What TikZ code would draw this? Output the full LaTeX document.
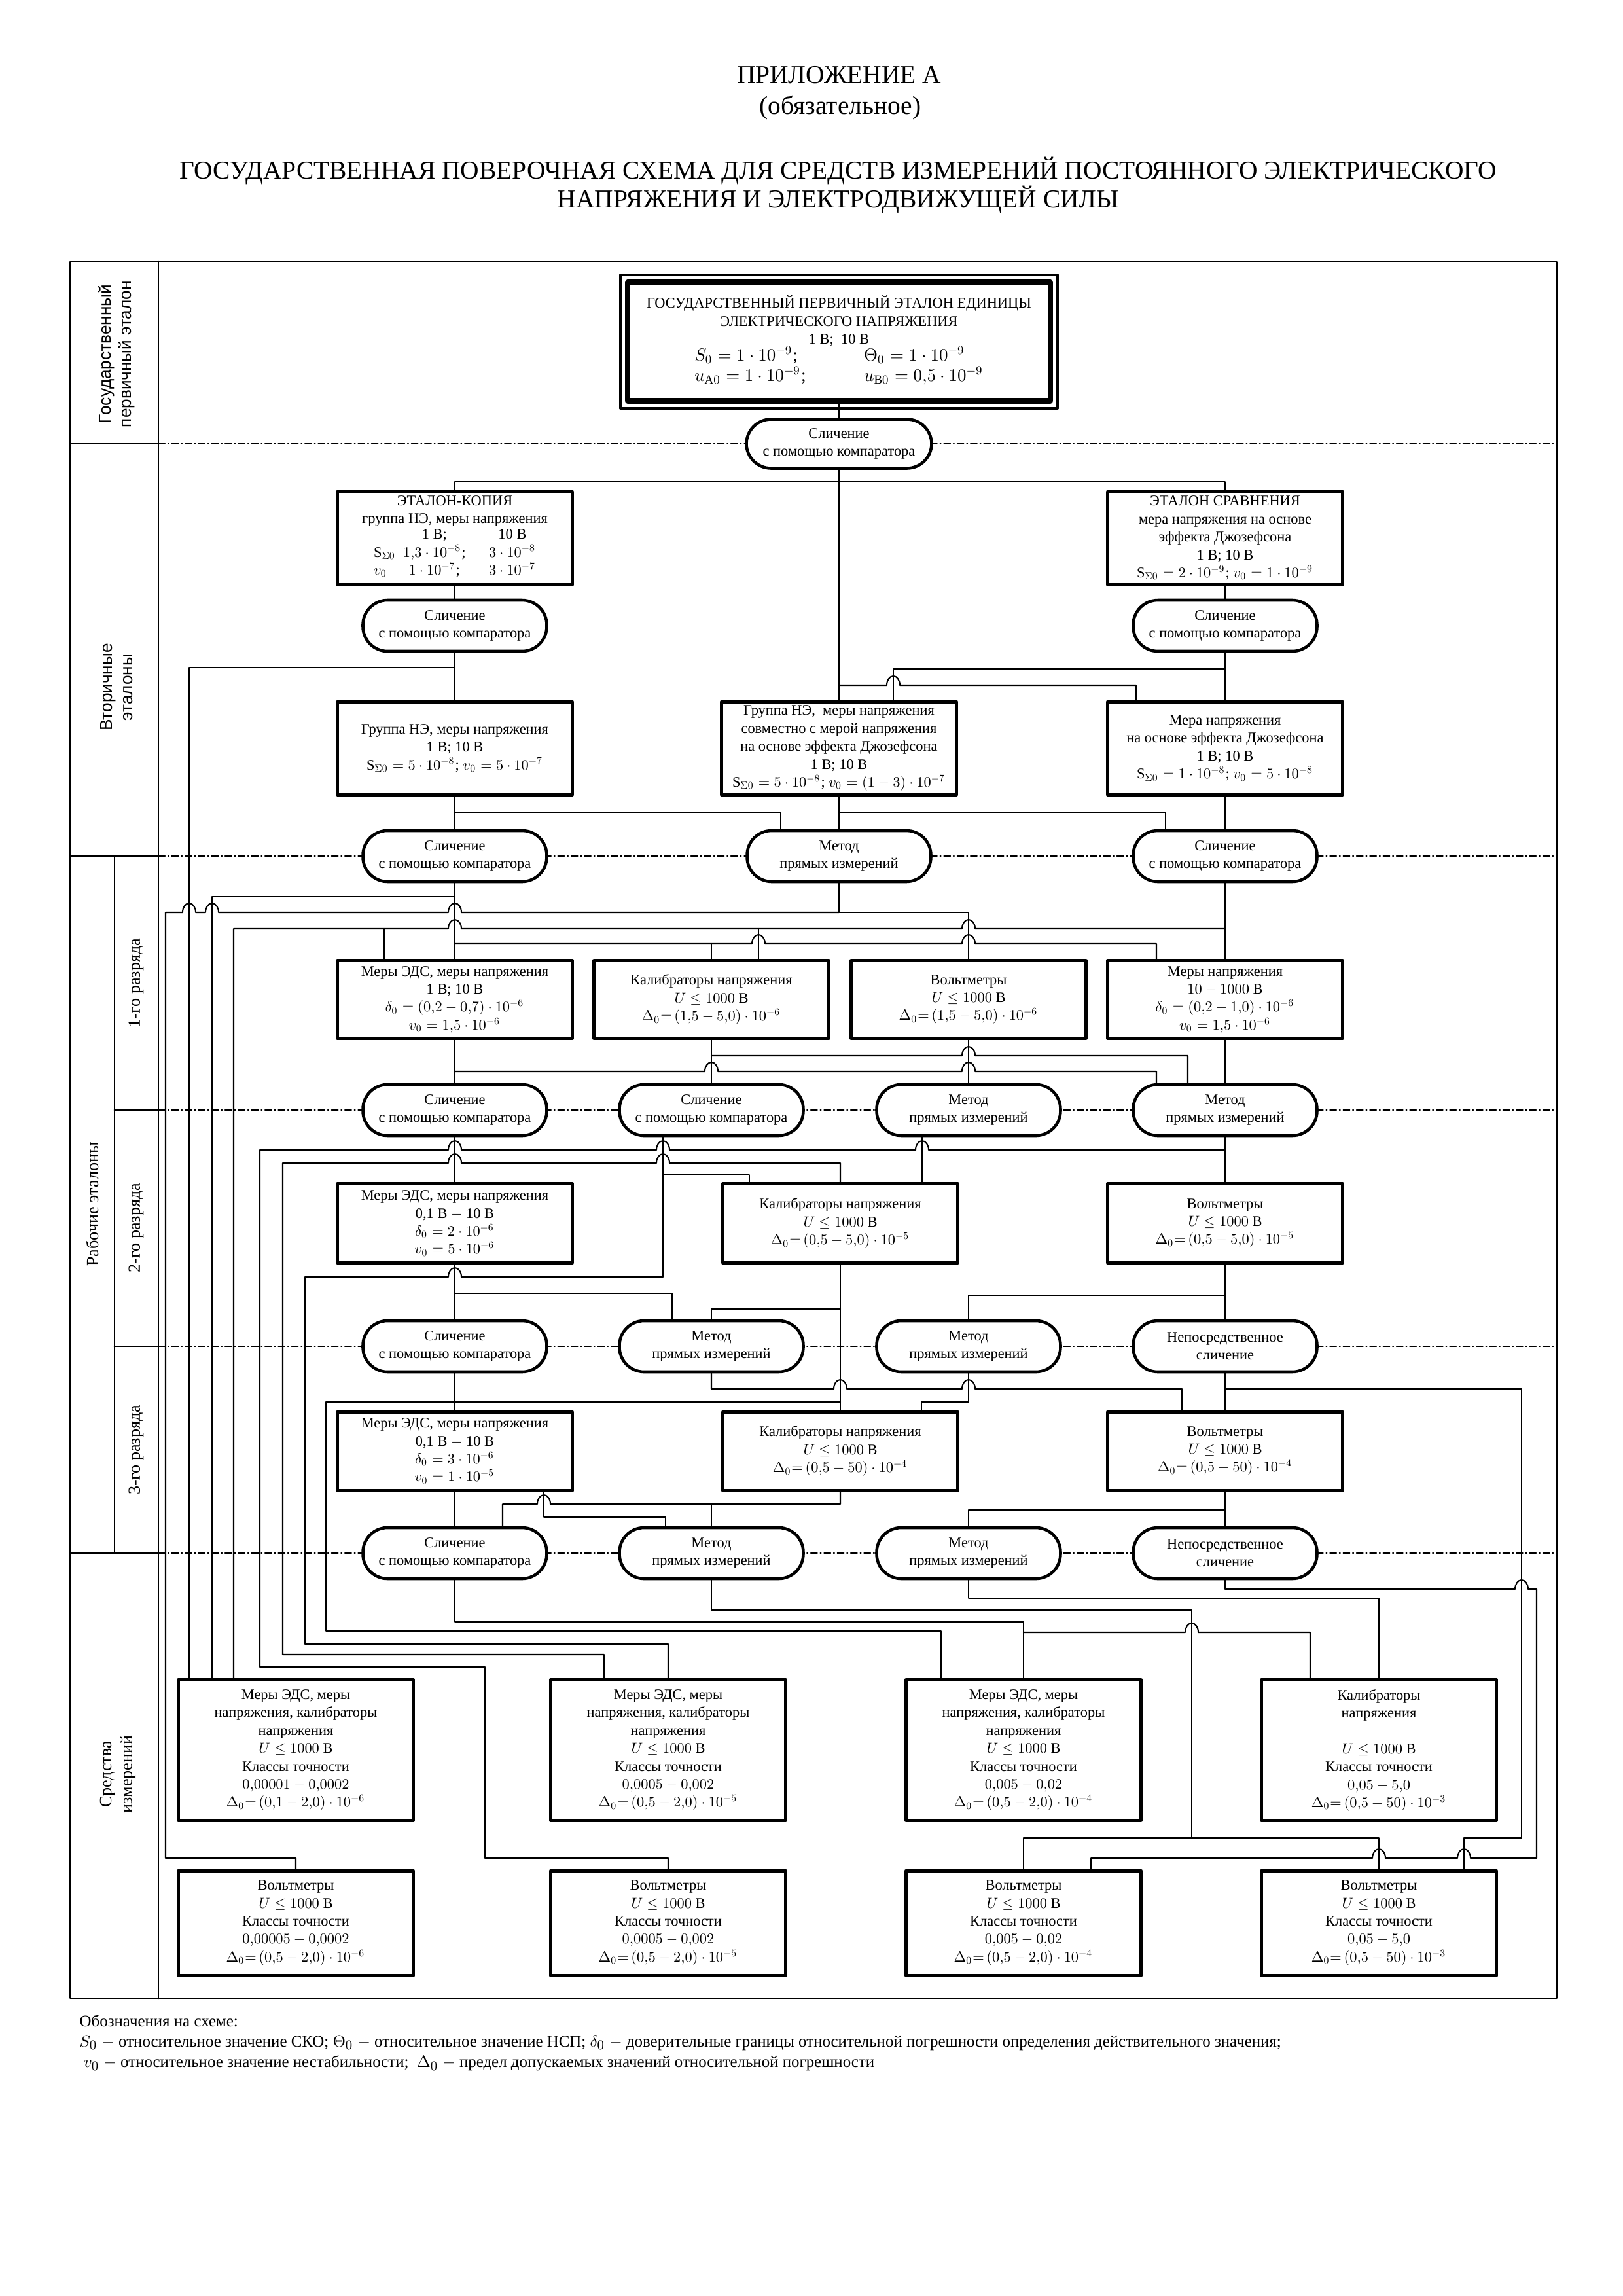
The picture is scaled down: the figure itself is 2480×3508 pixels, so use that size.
\documentclass[tikz,border=0pt]{standalone}
\usepackage{fontspec}
\setmainfont{Liberation Serif}
\newfontfamily\lblsans{Liberation Sans}
\DeclareFontShape{OML}{cmm}{m}{it}{<->cmmi10}{}
\DeclareFontShape{OMS}{cmsy}{m}{n}{<->cmsy10}{}
\DeclareFontShape{OT1}{cmr}{m}{n}{<->cmr10}{}
\def\px{0.084677mm}
\newcommand\hopR[2]{-- (#1-10,#2) arc[start angle=180,end angle=360,x radius=10,y radius=14]}
\newcommand\hopL[2]{-- (#1+10,#2) arc[start angle=0,end angle=-180,x radius=10,y radius=14]}
\newcommand\slich{Сличение\\с помощью компаратора}
\newcommand\metod{Метод\\прямых измерений}
\newcommand\nepos{Непосредственное\\сличение}
\begin{document}
\begin{tikzpicture}[x=0.084677mm, y=-0.084677mm, line join=round, line cap=round,
  box/.style={draw, fill=white, line width=1.2pt, minimum width=359*\px, align=center, inner sep=1pt, font=\fontsize{5.4}{6.6}\selectfont},
  oval/.style={draw, fill=white, line width=1.1pt, rounded corners=3.2mm, minimum width=281*\px, minimum height=78*\px, align=center, inner sep=1pt, font=\fontsize{5.4}{6.4}\selectfont},
  conn/.style={line width=0.5pt},
  frm/.style={line width=0.7pt},
  dashdot/.style={line width=0.3pt, dash pattern=on 2.5pt off 1pt on 0.4pt off 1pt},
  side/.style={rotate=90, align=center, font=\fontsize{6.3}{7.6}\selectfont}]
\useasboundingbox (0,0) rectangle (2480,3508);

\node[font=\fontsize{9.5}{11}\selectfont] (app) at (1282,115) {ПРИЛОЖЕНИЕ А};
\node[font=\fontsize{9.5}{11}\selectfont] (oblig) at (1284,165) {(обязательное)};
\node[font=\fontsize{9.5}{10.8}\selectfont, align=center] (ttl) at (1281,283) {ГОСУДАРСТВЕННАЯ ПОВЕРОЧНАЯ СХЕМА ДЛЯ СРЕДСТВ ИЗМЕРЕНИЙ ПОСТОЯННОГО ЭЛЕКТРИЧЕСКОГО\\НАПРЯЖЕНИЯ И ЭЛЕКТРОДВИЖУЩЕЙ СИЛЫ};

% frame and side column
\draw[frm] (107,400) rectangle (2379,3053);
\draw[frm] (242,400) -- (242,3053);
\draw[frm] (107,678) -- (242,678);
\draw[frm] (107,1308) -- (242,1308);
\draw[frm] (175,1308) -- (175,2373);
\draw[frm] (175,1696) -- (242,1696);
\draw[frm] (175,2057) -- (242,2057);
\draw[frm] (107,2373) -- (242,2373);
\foreach \yy in {678,1308,1696,2057,2373}
  \draw[dashdot] (242,\yy) -- (2379,\yy);

\node[side, font=\lblsans\fontsize{6.3}{7.6}\selectfont] (lgos) at (178,541) {Государственный\\первичный эталон};
\node[side, font=\lblsans\fontsize{6.3}{7.6}\selectfont] (lvtor) at (178,1050) {Вторичные\\эталоны};
\node[side] (lrab) at (141,1840) {Рабочие эталоны};
\node[side] (lr1) at (208,1502) {1-го разряда};
\node[side] (lr2) at (208,1876) {2-го разряда};
\node[side] (lr3) at (208,2215) {3-го разряда};
\node[side] (lsi) at (180,2711) {Средства\\измерений};

% primary and secondary standards
\node[box, line width=2pt, minimum width=646*\px, minimum height=181*\px] (prim) at (1282,522) {ГОСУДАРСТВЕННЫЙ ПЕРВИЧНЫЙ ЭТАЛОН ЕДИНИЦЫ\\ЭЛЕКТРИЧЕСКОГО НАПРЯЖЕНИЯ\\1 В;\ \ 10 В\\[-1pt]
  {\fontsize{6.5}{7.6}\selectfont\begin{tabular}{@{}l@{\hspace{7.5mm}}l@{}}$S_0=1\cdot10^{-9}$; & $\Theta_0=1\cdot10^{-9}$\\ $u_{\mathrm{A}0}=1\cdot10^{-9}$; & $u_{\mathrm{B}0}=0{,}5\cdot10^{-9}$\end{tabular}}};
\draw[line width=0.9pt] ([shift={(-7,-7)}]prim.north west) rectangle ([shift={(7,7)}]prim.south east);
\node[oval, minimum width=283*\px, minimum height=75*\px] (ov0) at (1282,678) {\slich};

\node[box, minimum height=142*\px] (ek) at (695,822) {ЭТАЛОН-КОПИЯ\\группа НЭ, меры напряжения\\[-1pt]
  \begin{tabular}{@{}l@{\ \ }c@{\hspace{3mm}}c@{}} & 1 В; & 10 В\\ S$_{\Sigma0}$ & $1{,}3\cdot10^{-8}$; & $3\cdot10^{-8}$\\ $v_0$ & $1\cdot10^{-7}$; & $3\cdot10^{-7}$\end{tabular}};
\node[box, minimum height=142*\px] (es) at (1872,822) {ЭТАЛОН СРАВНЕНИЯ\\мера напряжения на основе\\эффекта Джозефсона\\1 В; 10 В\\S$_{\Sigma0}=2\cdot10^{-9}$; $v_0=1\cdot10^{-9}$};
\node[oval] (ov1a) at (695,956) {\slich};
\node[oval] (ov1b) at (1872,956) {\slich};

\node[box, minimum height=142*\px] (g1) at (695,1143) {Группа НЭ, меры напряжения\\1 В; 10 В\\S$_{\Sigma0}=5\cdot10^{-8}$; $v_0=5\cdot10^{-7}$};
\node[box, minimum height=142*\px] (g2) at (1282,1143) {Группа НЭ,\ \ меры напряжения\\совместно с мерой напряжения\\на основе эффекта Джозефсона\\1 В; 10 В\\S$_{\Sigma0}=5\cdot10^{-8}$; $v_0=(1-3)\cdot10^{-7}$};
\node[box, minimum height=142*\px] (g3) at (1872,1143) {Мера напряжения\\на основе эффекта Джозефсона\\1 В; 10 В\\S$_{\Sigma0}=1\cdot10^{-8}$; $v_0=5\cdot10^{-8}$};
\node[oval] (ov2a) at (695,1308) {\slich};
\node[oval] (ov2b) at (1282,1308) {\metod};
\node[oval] (ov2c) at (1872,1308) {\slich};

% working standards
\node[box, minimum height=119*\px] (b11) at (695,1527) {Меры ЭДС, меры напряжения\\1 В; 10 В\\$\delta_0=(0{,}2-0{,}7)\cdot10^{-6}$\\$v_0=1{,}5\cdot10^{-6}$};
\node[box, minimum height=119*\px] (b12) at (1087,1527) {Калибраторы напряжения\\$U\leq1000$ В\\$\Delta_0{=}\,(1{,}5-5{,}0)\cdot10^{-6}$};
\node[box, minimum height=119*\px] (b13) at (1480,1527) {Вольтметры\\$U\leq1000$ В\\$\Delta_0{=}\,(1{,}5-5{,}0)\cdot10^{-6}$};
\node[box, minimum height=119*\px] (b14) at (1872,1527) {Меры напряжения\\$10-1000$ В\\$\delta_0=(0{,}2-1{,}0)\cdot10^{-6}$\\$v_0=1{,}5\cdot10^{-6}$};
\node[oval] (ov3a) at (695,1696) {\slich};
\node[oval] (ov3b) at (1087,1696) {\slich};
\node[oval] (ov3c) at (1480,1696) {\metod};
\node[oval] (ov3d) at (1872,1696) {\metod};

\node[box, minimum height=121*\px] (b21) at (695,1869) {Меры ЭДС, меры напряжения\\0,1 В $-$ 10 В\\$\delta_0=2\cdot10^{-6}$\\$v_0=5\cdot10^{-6}$};
\node[box, minimum height=121*\px] (b22) at (1284,1869) {Калибраторы напряжения\\$U\leq1000$ В\\$\Delta_0{=}\,(0{,}5-5{,}0)\cdot10^{-5}$};
\node[box, minimum height=121*\px] (b23) at (1872,1869) {Вольтметры\\$U\leq1000$ В\\$\Delta_0{=}\,(0{,}5-5{,}0)\cdot10^{-5}$};
\node[oval] (ov4a) at (695,2057) {\slich};
\node[oval] (ov4b) at (1087,2057) {\metod};
\node[oval] (ov4c) at (1480,2057) {\metod};
\node[oval] (ov4d) at (1872,2057) {\nepos};

\node[box, minimum height=120*\px] (b31) at (695,2217) {Меры ЭДС, меры напряжения\\0,1 В $-$ 10 В\\$\delta_0=3\cdot10^{-6}$\\$v_0=1\cdot10^{-5}$};
\node[box, minimum height=120*\px] (b32) at (1284,2217) {Калибраторы напряжения\\$U\leq1000$ В\\$\Delta_0{=}\,(0{,}5-50)\cdot10^{-4}$};
\node[box, minimum height=120*\px] (b33) at (1872,2217) {Вольтметры\\$U\leq1000$ В\\$\Delta_0{=}\,(0{,}5-50)\cdot10^{-4}$};
\node[oval] (ov5a) at (695,2373) {\slich};
\node[oval] (ov5b) at (1087,2373) {\metod};
\node[oval] (ov5c) at (1480,2373) {\metod};
\node[oval] (ov5d) at (1872,2373) {\nepos};

% measuring instruments
\node[box, minimum height=215*\px] (m1) at (452,2674) {Меры ЭДС, меры\\напряжения, калибраторы\\напряжения\\$U\leq1000$ В\\Классы точности\\$0{,}00001-0{,}0002$\\$\Delta_0{=}\,(0{,}1-2{,}0)\cdot10^{-6}$};
\node[box, minimum height=215*\px] (m2) at (1021,2674) {Меры ЭДС, меры\\напряжения, калибраторы\\напряжения\\$U\leq1000$ В\\Классы точности\\$0{,}0005-0{,}002$\\$\Delta_0{=}\,(0{,}5-2{,}0)\cdot10^{-5}$};
\node[box, minimum height=215*\px] (m3) at (1564,2674) {Меры ЭДС, меры\\напряжения, калибраторы\\напряжения\\$U\leq1000$ В\\Классы точности\\$0{,}005-0{,}02$\\$\Delta_0{=}\,(0{,}5-2{,}0)\cdot10^{-4}$};
\node[box, minimum height=215*\px] (m4) at (2107,2674) {Калибраторы\\напряжения\\ \\$U\leq1000$ В\\Классы точности\\$0{,}05-5{,}0$\\$\Delta_0{=}\,(0{,}5-50)\cdot10^{-3}$};
\node[box, minimum height=160*\px] (v1) at (452,2938) {Вольтметры\\$U\leq1000$ В\\Классы точности\\$0{,}00005-0{,}0002$\\$\Delta_0{=}\,(0{,}5-2{,}0)\cdot10^{-6}$};
\node[box, minimum height=160*\px] (v2) at (1021,2938) {Вольтметры\\$U\leq1000$ В\\Классы точности\\$0{,}0005-0{,}002$\\$\Delta_0{=}\,(0{,}5-2{,}0)\cdot10^{-5}$};
\node[box, minimum height=160*\px] (v3) at (1564,2938) {Вольтметры\\$U\leq1000$ В\\Классы точности\\$0{,}005-0{,}02$\\$\Delta_0{=}\,(0{,}5-2{,}0)\cdot10^{-4}$};
\node[box, minimum height=160*\px] (v4) at (2107,2938) {Вольтметры\\$U\leq1000$ В\\Классы точности\\$0{,}05-5{,}0$\\$\Delta_0{=}\,(0{,}5-50)\cdot10^{-3}$};

% connectors
\draw[conn] (prim.south) -- (ov0.north);
\draw[conn] (ov0.south) -- (g2.north);
\draw[conn] (ek.north) |- (es.north |- 0,736) -- (es.north);
\draw[conn] (ek.south) -- (ov1a.north);
\draw[conn] (es.south) -- (ov1b.north);
\draw[conn] (ov1a.south) -- (g1.north);
\draw[conn] (ov1a.south |- 0,1020) -| (m1.north -| 289,0);
\draw[conn] (ov1b.south) -- (g3.north);
\draw[conn] (ov1b.south |- 0,1022) -| (g2.north -| 1365,0);
\draw[conn] (ov0.south |- 0,1047) \hopR{1365}{1047} -| (g3.north -| 1736,0);
\draw[conn] (g1.south) -- (ov2a.north);
\draw[conn] (g1.south |- 0,1241) -| (ov2b.north -| 1193,0);
\draw[conn] (g2.south) -- (ov2b.north);
\draw[conn] (g2.south |- 0,1241) -| (ov2c.north -| 1781,0);
\draw[conn] (g3.south) -- (ov2c.north);

\draw[conn] (ov2a.south) -- (b11.north);
\draw[conn] (ov2a.south |- 0,1370) -| (m1.north -| 324,0);
\draw[conn] (ov2a.south |- 0,1442) \hopR{1159}{1442} \hopR{1480}{1442} -| (b14.north -| 1767,0);
\draw[conn] (b12.north |- 0,1442) -- (b12.north);
\draw[conn] (ov2b.south) -- (ov2b.south |- 0,1394) \hopL{695}{1394} \hopL{324}{1394} \hopL{289}{1394} -- (253,1394) |- (v1.north |- 0,2839) -- (v1.north);
\draw[conn] (ov2b.south |- 0,1394) -| (b13.north);
\draw[conn] (ov2c.south) -- (b14.north);
\draw[conn] (ov2c.south |- 0,1419) \hopL{1480}{1419} \hopL{695}{1419} -| (m1.north -| 357,0);
\draw[conn] (587,1419) -- (b11.north -| 587,0);
\draw[conn] (1159,1419) -- (b12.north -| 1159,0);

\draw[conn] (b11.south) -- (ov3a.north);
\draw[conn] (b11.south |- 0,1637) \hopR{1087}{1637} \hopR{1480}{1637} -| (ov3d.north -| 1767,0);
\draw[conn] (b12.south) -- (ov3b.north);
\draw[conn] (b12.south |- 0,1613) \hopR{1480}{1613} -| (ov3d.north -| 1815,0);
\draw[conn] (b13.south) -- (ov3c.north);
\draw[conn] (b14.south) -- (ov3d.north);

\draw[conn] (ov3a.south) -- (b21.north);
\draw[conn] (ov3d.south) -- (b23.north);
\draw[conn] (ov3d.south |- 0,1757) \hopL{1409}{1757} \hopL{1013}{1757} \hopL{695}{1757} -- (397,1757) |- (741,2547) |- (v2.north |- 0,2839) -- (v2.north);
\draw[conn] (ov3c.south -| 1409,0) -- (b22.north -| 1409,0);
\draw[conn] (ov3b.south -| 1013,0) -- (1013,1951) \hopL{695}{1951} -- (466,1951) |- (m2.north |- 0,2512) -- (m2.north);
\draw[conn] (1013,1795) -| (b22.north -| 1145,0);
\draw[conn] (b22.north) -- (b22.north |- 0,1777) \hopL{1013}{1777} \hopL{695}{1777} -- (432,1777) |- (923,2528) -- (m2.north -| 923,0);

\draw[conn] (b21.south) -- (ov4a.north);
\draw[conn] (b21.south |- 0,1976) -| (ov4b.north -| 1027,0);
\draw[conn] (b22.south) -- (b32.north);
\draw[conn] (b22.south |- 0,2000) -| (ov4b.north);
\draw[conn] (b32.north |- 0,2142) -- (498,2142) |- (1438,2492) -- (m3.north -| 1438,0);
\draw[conn] (b23.south) -- (ov4d.north);
\draw[conn] (b23.south |- 0,1979) -| (ov4c.north);

\draw[conn] (ov4a.south) -- (b31.north);
\draw[conn] (ov4b.south) -- (ov4b.south |- 0,2122) \hopR{1284}{2122} \hopR{1480}{2122} -| (b33.north -| 1806,0);
\draw[conn] (ov4c.south) -- (ov4c.south |- 0,2142) -| (b32.north -| 1408,0);
\draw[conn] (ov4d.south) -- (b33.north);
\draw[conn] (ov4d.south |- 0,2122) -- (2325,2122) |- (2237,2808) -- (v4.north -| 2237,0);

\draw[conn] (b31.south) -- (ov5a.north);
\draw[conn] (b31.south -| 831,0) |- (1017,2318) -- (ov5b.north -| 1017,0);
\draw[conn] (b32.south) -- (b32.south |- 0,2298) \hopL{831}{2298} -| (ov5a.north -| 768,0);
\draw[conn] (ov5b.north |- 0,2298) -- (ov5b.north);
\draw[conn] (b33.south) -- (ov5d.north);
\draw[conn] (b33.south |- 0,2307) -| (ov5c.north);

\draw[conn] (ov5a.south) |- (m3.north |- 0,2478) -- (m3.north);
\draw[conn] (m3.north |- 0,2494) \hopR{1821}{2494} -| (m4.north -| 2002,0);
\draw[conn] (ov5b.south) |- (1821,2460) -- (1821,2808);
\draw[conn] (v3.north) |- (v4.north |- 0,2808) -- (v4.north);
\draw[conn] (ov5c.south) |- (m4.north |- 0,2442) -- (m4.north);
\draw[conn] (ov5d.south) -- (ov5d.south |- 0,2428) \hopR{2325}{2428} -- (2348,2428) -- (2348,2839) \hopL{2237}{2839} \hopL{2107}{2839} -| (v3.north -| 1667,0);

% legend
\node[anchor=west, font=\fontsize{6}{8}\selectfont] (leg1) at (107,3088) {Обозначения на схеме:};
\node[anchor=west, font=\fontsize{6}{8}\selectfont] (leg2) at (107,3121) {$S_0$ $-$ относительное значение СКО; $\Theta_0$ $-$ относительное значение НСП; $\delta_0$ $-$ доверительные границы относительной погрешности определения действительного значения;};
\node[anchor=west, font=\fontsize{6}{8}\selectfont] (leg3) at (107,3152) {\ $v_0$ $-$ относительное значение нестабильности;\ \ $\Delta_0$ $-$ предел допускаемых значений относительной погрешности};
\end{tikzpicture}
\end{document}
